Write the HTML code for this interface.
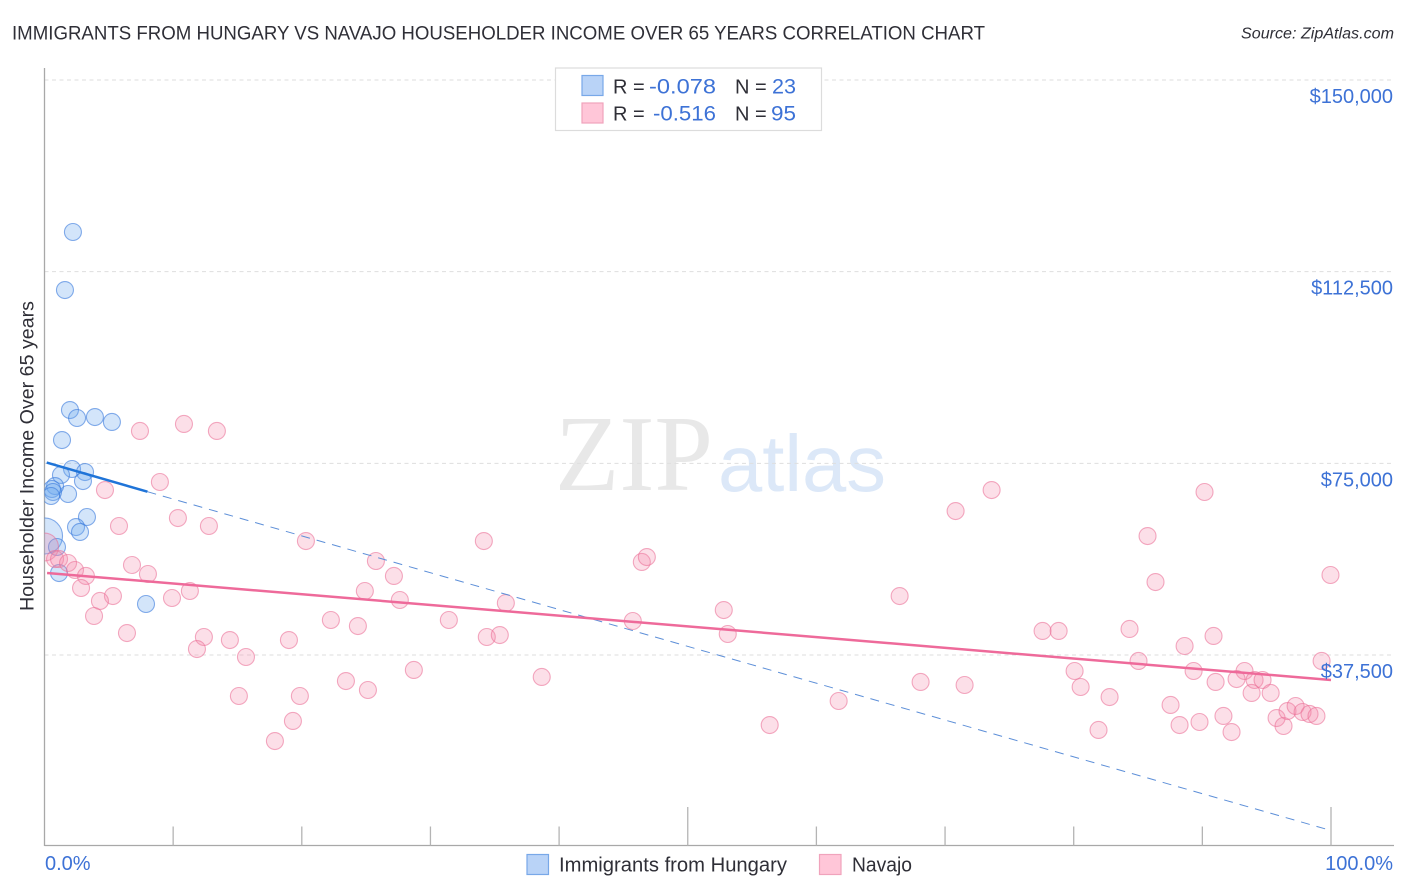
<!DOCTYPE html>
<html lang="en">
<head>
<meta charset="utf-8">
<title>Immigrants from Hungary vs Navajo Householder Income Over 65 Years Correlation Chart</title>
<style>
html,body{margin:0;padding:0;background:#fff;width:1406px;height:892px;overflow:hidden}
svg{display:block;font-family:"Liberation Sans",Arial,sans-serif}
</style>
</head>
<body>
<svg id="chart" width="1406" height="892" viewBox="0 0 1406 892" xmlns="http://www.w3.org/2000/svg">
  <defs>
    <clipPath id="plot-clip"><rect x="44.5" y="60" width="1362" height="786"/></clipPath>
  </defs>
  <rect x="0" y="0" width="1406" height="892" fill="#fff"/>

  <g>
    <text x="555" y="490" font-family="'Liberation Serif',serif" font-size="108" fill="#e8e8e8" textLength="158" lengthAdjust="spacingAndGlyphs">ZIP</text>
    <text x="718" y="491" font-size="80" fill="#dce8f8" textLength="168" lengthAdjust="spacingAndGlyphs">atlas</text>
  </g>

  <g id="grid"></g>
  <g id="axes"></g>
  <g id="points-hungary" clip-path="url(#plot-clip)"></g>
  <g id="points-navajo" clip-path="url(#plot-clip)"></g>
  <g id="trends"></g>
  <g id="ytick-labels"></g>
  <g id="xtick-labels"></g>

  <text x="12" y="39.5" font-size="19.5" fill="#2f2f37" textLength="973" lengthAdjust="spacingAndGlyphs">IMMIGRANTS FROM HUNGARY VS NAVAJO HOUSEHOLDER INCOME OVER 65 YEARS CORRELATION CHART</text>
  <text x="1241" y="38.5" font-size="15.5" font-style="italic" fill="#2f2f37" textLength="153" lengthAdjust="spacingAndGlyphs">Source: ZipAtlas.com</text>
  <text transform="translate(33.5,611) rotate(-90)" x="0" y="0" font-size="19" fill="#2f2f37" textLength="310" lengthAdjust="spacingAndGlyphs">Householder Income Over 65 years</text>

  <g>
    <rect x="555.5" y="68" width="266" height="62.5" fill="#fff" stroke="#dcdcdc" stroke-width="1.2"/>
    <rect x="582" y="75.5" width="21" height="20" fill="#b9d3f7" stroke="#78a8e8" stroke-width="1.2"/>
    <rect x="582" y="103" width="21" height="20" fill="#ffc6d8" stroke="#f0a3bc" stroke-width="1.2"/>
    <text x="613" y="93.5" font-size="20" fill="#2f2f37">R =</text>
    <text x="649" y="93.5" font-size="21" fill="#3d72d6" textLength="67" lengthAdjust="spacingAndGlyphs">-0.078</text>
    <text x="735" y="93.5" font-size="20" fill="#2f2f37">N =</text>
    <text x="772" y="93.5" font-size="21" fill="#3d72d6" textLength="24" lengthAdjust="spacingAndGlyphs">23</text>
    <text x="613" y="120.5" font-size="20" fill="#2f2f37">R =</text>
    <text x="653" y="120.5" font-size="21" fill="#3d72d6" textLength="63" lengthAdjust="spacingAndGlyphs">-0.516</text>
    <text x="735" y="120.5" font-size="20" fill="#2f2f37">N =</text>
    <text x="771" y="120.5" font-size="21" fill="#3d72d6" textLength="25" lengthAdjust="spacingAndGlyphs">95</text>
  </g>

  <g>
    <rect x="527" y="854.5" width="21.5" height="20" fill="#b9d3f7" stroke="#78a8e8" stroke-width="1.2"/>
    <text x="559" y="871.5" font-size="20" fill="#2f2f37" textLength="228" lengthAdjust="spacingAndGlyphs">Immigrants from Hungary</text>
    <rect x="819.5" y="854.5" width="21.5" height="20" fill="#ffc6d8" stroke="#f0a3bc" stroke-width="1.2"/>
    <text x="852" y="871.5" font-size="20" fill="#2f2f37" textLength="60" lengthAdjust="spacingAndGlyphs">Navajo</text>
  </g>
</svg>

<script>
const yTicks = [37500, 75000, 112500, 150000];
const yTickLabels = ["$37,500", "$75,000", "$112,500", "$150,000"];
const xTicks = [0, 10, 20, 30, 40, 50, 60, 70, 80, 90, 100];
const xTickLabels = ["0.0%", "100.0%"];

const hungaryShare = [2.21,1.59,1.98,2.53,3.92,5.24,1.36,2.14,3.15,1.28,2.99,1.83,0.82,0.58,0.66,0.51,3.3,2.45,2.76,0,0.97,1.13,7.89];
const hungaryIncome = [120260,108910,85430,83870,84060,83090,79560,73890,73300,72720,71540,69000,70560,69980,69390,68610,64500,62540,61570,60780,58630,53540,47480];
const hungaryWeight = [1,1,1,1,1,1,1,1,1,1,1,1,1,1,1,1,1,1,1,4.5,1,1,1];

const navajoShare = [0,7.42,10.84,13.4,8.97,4.7,10.37,5.79,12.78,0.82,1.13,1.83,2.37,3.22,6.8,8.04,11.3,9.91,2.84,5.32,4.31,3.85,6.41,12.39,11.85,14.41,15.66,19.0,15.11,19.85,19.31,17.91,20.32,25.76,27.16,24.9,27.62,22.26,24.36,23.43,25.14,28.71,31.43,34.15,35.86,34.38,35.39,38.65,46.43,46.82,45.73,52.8,53.11,56.37,61.73,66.47,68.1,71.52,70.82,73.62,77.58,78.83,80.07,80.54,81.93,82.79,84.34,85.74,86.36,90.17,99.96,88.62,90.87,85.04,89.32,91.03,93.28,92.66,94.06,94.68,93.83,95.31,99.27,87.53,88.23,89.78,91.64,92.27,95.77,96.31,96.62,97.25,97.79,98.33,98.87];
const navajoIncome = [58630,81330,82700,81330,71350,69780,64300,62740,62740,56280,56280,55500,54130,52960,55110,53350,50020,48650,50610,49040,48070,45130,41800,41020,38670,40430,37110,40430,29480,29480,24590,20670,59800,55890,52960,50020,48260,44350,43170,32410,30650,34570,44350,59800,47670,41020,41410,33200,55700,56670,44150,46300,41610,23800,28500,49040,32220,31630,65670,69780,42200,42200,34370,31240,22830,29280,42590,60780,51780,69390,53150,39260,41220,36330,34370,32220,34370,32800,32610,32610,30070,30070,36330,27720,23800,24390,25570,22430,25170,23610,26540,27520,26350,25960,25570];
const navajoWeight = [2.7,1,1,1,1,1,1,1,1,1,1,1,1,1,1,1,1,1,1,1,1,1,1,1,1,1,1,1,1,1,1,1,1,1,1,1,1,1,1,1,1,1,1,1,1,1,1,1,1,1,1,1,1,1,1,1,1,1,1,1,1,1,1,1,1,1,1,1,1,1,1,1,1,1,1,1,1,1,1,1,1,1,1,1,1,1,1,1,1,1,1,1,1,1,1];

const hungaryTrendShare = [0.17, 8.0];
const hungaryTrendIncome = [75160, 69450];
const hungaryProjectionShare = [8.0, 100];
const hungaryProjectionIncome = [69450, 3160];
const navajoTrendShare = [0.2, 100];
const navajoTrendIncome = [53540, 32610];

const X0 = 44.5, X100 = 1331;
const Y_37500 = 655, Y_150000 = 80;
function xScale(p) { return X0 + (X100 - X0) * p / 100; }
function yScale(v) { return Y_37500 + (Y_150000 - Y_37500) * (v - 37500) / 112500; }

const NS = "http://www.w3.org/2000/svg";
function make(tag, parentId, attrs) {
  const el = document.createElementNS(NS, tag);
  for (const k in attrs) el.setAttribute(k, attrs[k]);
  document.getElementById(parentId).appendChild(el);
  return el;
}

yTicks.forEach(function (v, i) {
  const line = make("line", "grid", {x1: X0, x2: 1394, y1: yScale(v), y2: yScale(v), stroke: "#dedede", "stroke-width": 1, "stroke-dasharray": "4 3.5"});
  
  
  const label = make("text", "ytick-labels", {x: 1393, y: yScale(v) + 23, "text-anchor": "end", "font-size": 20, fill: "#3d72d6"});
  label.textContent = yTickLabels[i];
  
  
});

const yAxis = make("line", "axes", {x1: X0, x2: X0, y1: 68, y2: 846, stroke: "#a8a8a8", "stroke-width": 1.3});


const xAxis = make("line", "axes", {x1: X0, x2: 1394, y1: 845.5, y2: 845.5, stroke: "#a8a8a8", "stroke-width": 1.3});



xTicks.forEach(function (p) {
  if (p === 0) return;
  const tall = p === 50 || p === 100;
  const tick = make("line", "axes", {x1: xScale(p), x2: xScale(p), y1: tall ? 807 : 826.5, y2: 845.5, stroke: "#b4b4b4", "stroke-width": 1.3});
  
  
});

const xLabelMin = make("text", "xtick-labels", {x: 45, y: 870, "font-size": 20, fill: "#3d72d6"});
xLabelMin.textContent = xTickLabels[0];


const xLabelMax = make("text", "xtick-labels", {x: 1393, y: 870, "text-anchor": "end", "font-size": 20, fill: "#3d72d6"});
xLabelMax.textContent = xTickLabels[1];



hungaryShare.forEach(function (p, i) {
  const dot = make("circle", "points-hungary", {cx: xScale(p), cy: yScale(hungaryIncome[i]), r: 8.5 * Math.sqrt(hungaryWeight[i]), fill: "rgba(110,170,240,0.3)", stroke: "rgba(55,120,220,0.6)", "stroke-width": 1.1});
  
  
});

navajoShare.forEach(function (p, i) {
  const dot = make("circle", "points-navajo", {cx: xScale(p), cy: yScale(navajoIncome[i]), r: 8.5 * Math.sqrt(navajoWeight[i]), fill: "rgba(245,135,170,0.27)", stroke: "rgba(235,110,150,0.58)", "stroke-width": 1.1});
  
  
});

const projection = make("line", "trends", {x1: xScale(hungaryProjectionShare[0]), y1: yScale(hungaryProjectionIncome[0]), x2: xScale(hungaryProjectionShare[1]), y2: yScale(hungaryProjectionIncome[1]), stroke: "#5d8fd8", "stroke-width": 1, "stroke-dasharray": "9 7"});


const hungaryTrend = make("line", "trends", {x1: xScale(hungaryTrendShare[0]), y1: yScale(hungaryTrendIncome[0]), x2: xScale(hungaryTrendShare[1]), y2: yScale(hungaryTrendIncome[1]), stroke: "#1f74d8", "stroke-width": 2.5});


const navajoTrend = make("line", "trends", {x1: xScale(navajoTrendShare[0]), y1: yScale(navajoTrendIncome[0]), x2: xScale(navajoTrendShare[1]), y2: yScale(navajoTrendIncome[1]), stroke: "#ee6a9a", "stroke-width": 2.5});


</script>
</body>
</html>
